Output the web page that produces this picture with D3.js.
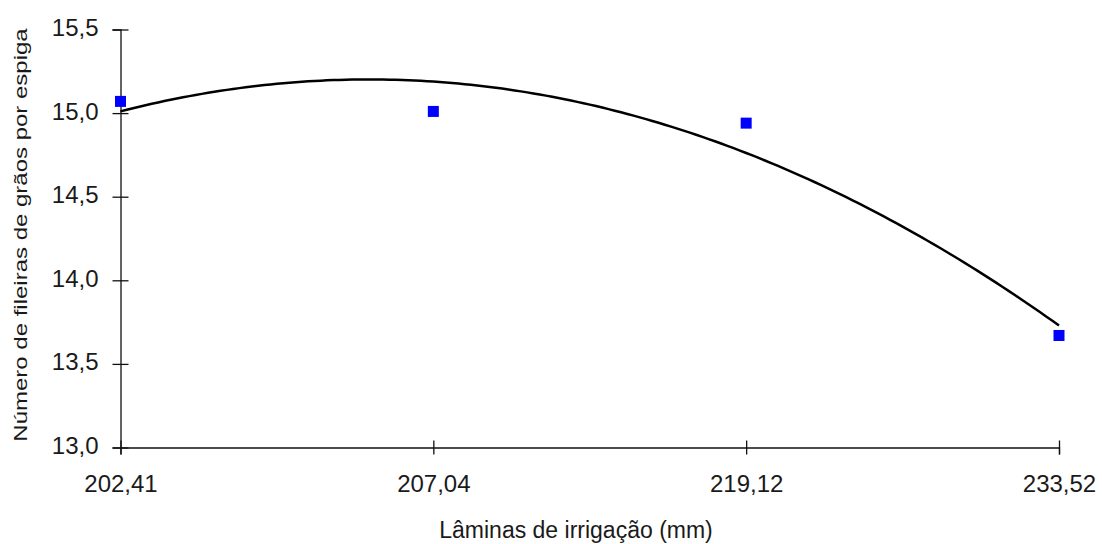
<!DOCTYPE html>
<html>
<head>
<meta charset="utf-8">
<script src="https://cdn.jsdelivr.net/npm/d3@7/dist/d3.min.js"></script>
<style>
  html, body { margin: 0; padding: 0; background: #fff; }
  svg { display: block; }
  text { font-family: "Liberation Sans", Arial, sans-serif; fill: #1a1a1a; }
</style>
</head>
<body>
<svg id="chart" width="1102" height="544"></svg>
<script>
// Irrigation depth (mm) categories and the measured rows of grain per ear
const categories = ["202,41", "207,04", "219,12", "233,52"];
const values = [15.07, 15.01, 14.94, 13.67];
const yTicks = [13.0, 13.5, 14.0, 14.5, 15.0, 15.5];
const xTitle = "Lâminas de irrigação (mm)";
const yTitle = "Número de fileiras de grãos por espiga";

const svg = d3.select("#chart");
const plot = { left: 120.5, right: 1059, top: 29.5, bottom: 447.5 };

const x = d3.scalePoint().domain(categories).range([plot.left, plot.right]);
const xIdx = d3.scaleLinear().domain([0, categories.length - 1]).range([plot.left, plot.right]);
const y = d3.scaleLinear().domain([13, 15.5]).range([plot.bottom, plot.top]);

const comma = v => d3.format(".1f")(v).replace(".", ",");

// Y axis with cross tick marks
const gy = svg.append("g")
  .attr("transform", `translate(${plot.left},0)`)
  .call(d3.axisLeft(y).tickValues(yTicks).tickFormat(comma).tickSizeOuter(0).tickSize(8));
gy.select(".domain").attr("stroke", "#111").attr("stroke-width", 1.3);
gy.selectAll(".tick line").attr("x1", -8).attr("x2", 8).attr("stroke", "#111").attr("stroke-width", 1.3);
gy.selectAll(".tick text").attr("x", -22).attr("dy", "6px")
  .style("font-size", "24px").style("font-family", "'Liberation Sans', Arial, sans-serif").attr("fill", "#1a1a1a");

// X axis with cross tick marks
const gx = svg.append("g")
  .attr("transform", `translate(0,${plot.bottom})`)
  .call(d3.axisBottom(x).tickSizeOuter(0).tickSize(7));
gx.select(".domain").attr("stroke", "#111").attr("stroke-width", 1.3);
gx.selectAll(".tick line").attr("y1", -7).attr("y2", 7).attr("stroke", "#111").attr("stroke-width", 1.3);
gx.selectAll(".tick text").attr("y", 44).attr("dy", 0)
  .style("font-size", "24px").style("font-family", "'Liberation Sans', Arial, sans-serif").attr("fill", "#1a1a1a");

// Quadratic least-squares trend over category positions 1..n
function quadFit(ys) {
  const xs = ys.map((_, i) => i + 1);
  const S = k => d3.sum(xs, v => Math.pow(v, k));
  const T = k => d3.sum(xs, (v, i) => Math.pow(v, k) * ys[i]);
  const A = [[S(0), S(1), S(2)], [S(1), S(2), S(3)], [S(2), S(3), S(4)]];
  const b = [T(0), T(1), T(2)];
  for (let c = 0; c < 3; c++) {
    for (let r = c + 1; r < 3; r++) {
      const f = A[r][c] / A[c][c];
      for (let k = c; k < 3; k++) A[r][k] -= f * A[c][k];
      b[r] -= f * b[c];
    }
  }
  const co = [0, 0, 0];
  for (let r = 2; r >= 0; r--) {
    let s = b[r];
    for (let k = r + 1; k < 3; k++) s -= A[r][k] * co[k];
    co[r] = s / A[r][r];
  }
  return t => co[0] + co[1] * t + co[2] * t * t;
}
const trend = quadFit(values);
const samples = d3.range(0, categories.length - 1 + 1e-9, 0.02);

svg.append("path")
  .datum(samples)
  .attr("fill", "none")
  .attr("stroke", "#000")
  .attr("stroke-width", 2.5)
  .attr("d", d3.line().x(t => xIdx(t)).y(t => y(trend(t + 1))));

// Observed values as blue squares
const sz = 11;
svg.append("g").selectAll("rect")
  .data(values)
  .join("rect")
  .attr("x", (d, i) => x(categories[i]) - sz / 2)
  .attr("y", d => y(d) - sz / 2)
  .attr("width", sz)
  .attr("height", sz)
  .attr("fill", "#0000ff");

// Axis titles
svg.append("text")
  .attr("x", 576).attr("y", 538)
  .attr("text-anchor", "middle")
  .style("font-size", "23px")
  .text(xTitle);

svg.append("text")
  .attr("transform", "translate(27,235) rotate(-90) scale(1,0.8)")
  .attr("text-anchor", "middle")
  .style("font-size", "24px")
  .text(yTitle);
</script>
</body>
</html>
